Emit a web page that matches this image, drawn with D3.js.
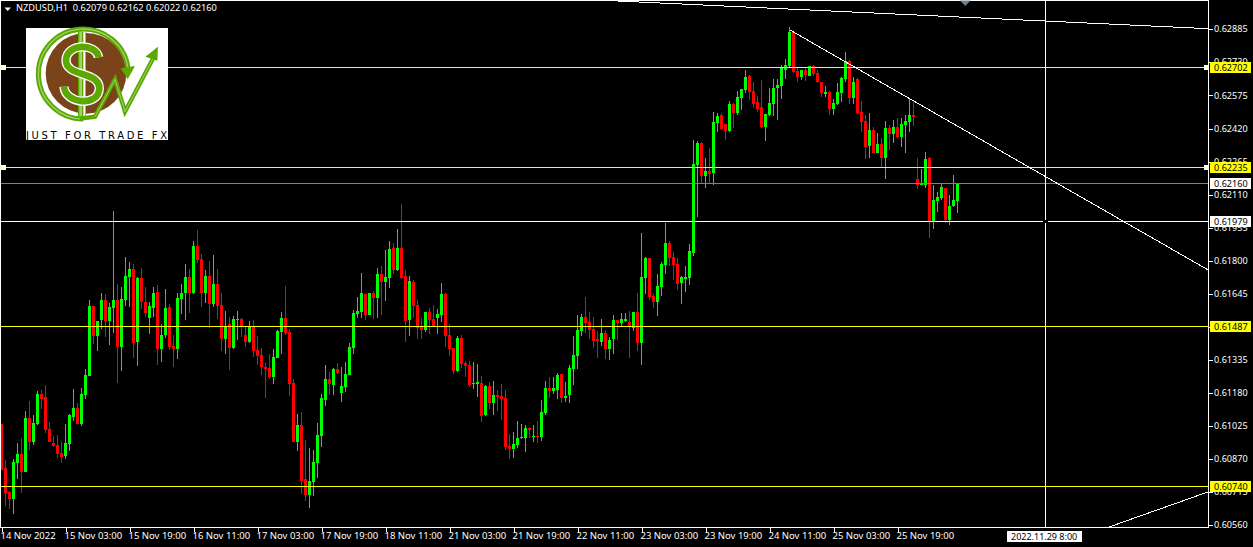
<!DOCTYPE html>
<html>
<head>
<meta charset="utf-8">
<script src="https://cdn.jsdelivr.net/npm/d3@7/dist/d3.min.js"></script>
<style>
html,body{margin:0;padding:0;background:#000;overflow:hidden}
svg{display:block}
text{font-family:"Noto Sans",sans-serif;font-size:9px}
</style>
</head>
<body>
<script>
// Prices in points (1 point = 0.00001), one hourly bar per entry
const opens = [
61030,60823,60710,60678,60847,60889,60804,61058,60945,61030,61171,61157,61006,60941,60931,60894,60880,60936,61063,61105,
61030,61166,61255,61584,61443,61518,61612,61514,61575,61612,61392,61612,61720,61758,61415,61716,61603,61528,61575,61650,
61382,61448,61579,61396,61382,61617,61645,61720,61645,61866,61805,61645,61725,61594,61687,61589,61429,61500,61387,61518,
61523,61448,61415,61485,61377,61354,61298,61293,61251,61340,61462,61528,61462,61222,60945,61025,60772,60696,60757,60847,
60974,61143,61241,61213,61288,61175,61204,61260,61387,61547,61556,61640,61542,61645,61622,61734,61697,61716,61857,61753,
61857,61725,61518,61697,61589,61485,61471,61556,61523,61528,61542,61640,61448,61387,61279,61434,61316,61307,61218,61218,
61222,61072,61208,61128,61166,61161,61152,60927,60912,60931,60964,60964,61011,60969,60974,60969,61082,61199,61185,61190,
61265,61152,61166,61288,61349,61467,61532,61509,61476,61429,61415,61457,61382,61429,61518,61504,61514,61509,61481,61556,
61410,61715,61809,61631,61602,61673,61776,61880,61814,61781,61692,61710,61715,61833,62246,62349,62194,62218,62208,62443,
62481,62439,62406,62532,62490,62561,62598,62664,62594,62542,62518,62424,62481,62532,62608,62617,62692,62711,62871,62687,
62659,62692,62664,62711,62678,62636,62579,62589,62509,62532,62584,62650,62734,62561,62650,62495,62453,62335,62410,62302,
62345,62279,62420,62392,62424,62377,62434,62448,62481,62180,62152,62152,62279,61983,62077,62091,62138,61988,62053,62079];
const highs = [
61030,60861,60715,60865,60941,60964,61091,61138,61072,61185,61190,61213,61039,60974,60978,60945,61030,61077,61194,61128,
61199,61288,61612,61584,61514,61645,61640,61598,62030,61687,61673,61814,61791,61781,61720,61763,61673,61603,61673,61683,
61500,61664,61594,61448,61645,61687,61781,61758,61889,61941,61828,61753,61795,61824,61758,61645,61561,61532,61537,61561,
61528,61490,61514,61518,61443,61387,61316,61359,61382,61471,61556,61678,61476,61241,61077,61086,60955,60917,60908,61035,
61171,61307,61274,61293,61316,61298,61321,61410,61565,61626,61739,61640,61645,61655,61763,61772,61847,61889,61880,61946,
62063,61753,61725,61706,61612,61528,61556,61575,61589,61570,61692,61645,61500,61387,61443,61448,61326,61326,61321,61312,
61255,61213,61227,61232,61190,61218,61190,60983,60992,61044,61030,61025,61016,61025,61044,61143,61232,61251,61251,61269,
61265,61227,61307,61443,61542,61547,61626,61556,61532,61467,61523,61471,61438,61542,61518,61551,61551,61561,61556,61645,
61927,61814,61809,61640,61734,61790,61973,61889,61837,61809,61725,61772,61875,62363,62359,62354,62279,62326,62495,62490,
62490,62439,62547,62537,62594,62603,62692,62669,62636,62570,62645,62485,62608,62650,62650,62716,62744,62894,62875,62706,
62692,62706,62711,62716,62692,62636,62617,62594,62556,62631,62659,62777,62739,62659,62655,62547,62481,62490,62424,62396,
62373,62453,62434,62457,62467,62467,62481,62561,62547,62279,62227,62307,62283,62152,62119,62157,62138,62105,62199,62162];
const lows = [
60814,60645,60631,60607,60772,60706,60804,60908,60931,61025,61100,60988,60945,60922,60870,60847,60865,60903,61044,61030,
61020,61147,61255,61406,61373,61476,61438,61401,61457,61222,61279,61584,61579,61340,61302,61570,61532,61453,61532,61307,
61321,61434,61377,61298,61335,61547,61518,61551,61640,61786,61579,61598,61481,61579,61523,61373,61359,61284,61382,61424,
61438,61392,61410,61345,61307,61260,61152,61241,61218,61340,61359,61448,61161,60945,60903,60701,60668,60635,60692,60776,
60922,61114,61166,61166,61265,61133,61180,61260,61359,61528,61528,61518,61542,61523,61528,61542,61608,61669,61734,61749,
61711,61415,61443,61528,61429,61429,61462,61453,61490,61453,61509,61392,61349,61265,61274,61293,61251,61204,61194,61157,
61039,61067,61100,61072,61091,61049,60908,60865,60870,60917,60959,60898,60964,60945,60941,60950,61072,61152,61171,61147,
61128,61133,61128,61213,61288,61443,61457,61429,61387,61340,61396,61335,61330,61359,61424,61490,61509,61340,61467,61373,
61307,61640,61612,61574,61537,61631,61734,61772,61706,61659,61593,61649,61682,61819,62002,62161,62138,62161,62152,62401,
62410,62363,62401,62420,62481,62504,62584,62551,62514,62495,62420,62359,62476,62476,62457,62556,62650,62706,62678,62636,
62645,62640,62664,62664,62631,62565,62565,62481,62481,62528,62542,62636,62532,62532,62485,62401,62274,62279,62302,62302,
62237,62180,62316,62349,62373,62330,62302,62401,62429,62133,62152,62138,61903,61945,62025,62082,61973,61964,62049,62022];
const closes = [
60817,60706,60678,60851,60889,60804,61058,60945,61035,61171,61147,61002,60945,60927,60889,60875,60941,61072,61105,61030,
61171,61260,61584,61443,61514,61612,61514,61579,61612,61392,61617,61725,61758,61410,61716,61603,61551,61584,61645,61382,
61448,61575,61392,61382,61622,61645,61720,61645,61866,61800,61645,61725,61594,61687,61584,61429,61490,61387,61523,61523,
61490,61415,61490,61373,61349,61298,61288,61251,61345,61467,61528,61457,61218,60945,61025,60762,60696,60762,60851,60978,
61152,61241,61218,61288,61269,61208,61265,61392,61551,61561,61645,61542,61645,61622,61734,61697,61720,61852,61753,61857,
61716,61514,61702,61584,61481,61471,61556,61518,61490,61547,61640,61443,61382,61279,61434,61312,61302,61213,61222,61227,
61067,61208,61128,61166,61157,61147,60922,60912,60936,60964,60969,61011,61002,60974,60969,61086,61199,61185,61199,61260,
61152,61161,61293,61354,61471,61532,61504,61471,61420,61420,61457,61382,61424,61518,61504,61523,61523,61485,61556,61410,
61720,61809,61626,61602,61678,61781,61880,61809,61776,61687,61720,61720,61842,62251,62349,62194,62218,62204,62448,62476,
62415,62406,62532,62490,62565,62603,62659,62589,62532,62509,62424,62485,62537,62608,62622,62706,62716,62871,62683,62659,
62692,62669,62711,62673,62636,62584,62589,62509,62537,62589,62655,62734,62561,62636,62490,62448,62330,62410,62302,62345,
62279,62420,62392,62424,62377,62439,62453,62481,62471,62152,62157,62274,61983,62082,62096,62143,61988,62053,62082,62160];

const priceTicks = [62885,62730,62575,62420,62265,62110,61955,61800,61645,61490,61335,61180,61025,60870,60715,60560];
const timeTickBars = [0,16,32,48,64,80,96,112,128,144,160,176,192,208,224];
const timeTickLabels = ["14 Nov 2022","15 Nov 03:00","15 Nov 19:00","16 Nov 11:00","17 Nov 03:00","17 Nov 19:00","18 Nov 11:00","21 Nov 03:00","21 Nov 19:00","22 Nov 11:00","23 Nov 03:00","23 Nov 19:00","24 Nov 11:00","25 Nov 03:00","25 Nov 19:00"];
const hLevels = [62702,62235,62160,61979,61487,60740];
const hLevelColors = ["#ffff00","#ffff00","#808080","#ffffff","#ffff00","#ffff00"];
const hLevelTags = ["#ffff00","#ffff00","#ffffff","#ffffff","#ffff00","#ffff00"];
const anchoredLevels = [62702,62235];
// Trend lines as [bar index, price in points] pairs (bars beyond the last lie in the future)
const trendLines = [
  [[148.2,63021],[301.75,62886]],
  [[197.1,62880],[301.75,61753]],
  [[276.6,60546],[301.75,60713]]
];

const W = 1253, H = 547, right = 1208.5, bottom = 527.5;
const x = d3.scaleLinear().domain([0,239]).range([1.5,957.5]);
const y = d3.scaleLinear().domain([60560,62885]).range([524.4,28.9]);
const py = v => Math.floor(y(v)) + 0.5;

const svg = d3.select("body").append("svg").attr("width",W).attr("height",H).style("background","#000");

// Candles
const bars = d3.range(opens.length).map(i => ({i,o:opens[i],h:highs[i],l:lows[i],c:closes[i]}));
const candles = svg.append("g").attr("shape-rendering","crispEdges");
candles.selectAll("rect.w").data(bars).join("rect").attr("class","w")
  .attr("x",d=>x(d.i)-0.5).attr("width",1)
  .attr("y",d=>Math.round(y(d.h))).attr("height",d=>Math.max(1,Math.round(y(d.l))-Math.round(y(d.h))))
  .attr("fill",d=>d.c>=d.o?"#14e60a":"#e60a0a");
candles.selectAll("rect.b").data(bars).join("rect").attr("class","b")
  .attr("x",d=>x(d.i)-1.5).attr("width",3)
  .attr("y",d=>Math.round(y(Math.max(d.o,d.c))))
  .attr("height",d=>Math.max(1,Math.round(y(Math.min(d.o,d.c)))-Math.round(y(Math.max(d.o,d.c)))))
  .attr("fill",d=>d.c>=d.o?"#00ff00":"#ff0000");

// Horizontal levels
const lv = svg.append("g").attr("shape-rendering","crispEdges");
hLevels.forEach((v,i)=>{
  lv.append("line").attr("x1",0).attr("x2",right).attr("y1",py(v)).attr("y2",py(v))
    .attr("stroke",hLevelColors[i]).attr("stroke-width",1);
});

// Trend lines (aliased, stepped as in the terminal)
const line = d3.line().x(d=>x(d[0])).y(d=>y(d[1]));
svg.append("g").selectAll("path").data(trendLines).join("path")
  .attr("d",line).attr("fill","none").attr("stroke","#fff").attr("stroke-width",1).attr("shape-rendering","crispEdges");

// Cross-hair vertical
lv.append("line").attr("x1",1045.5).attr("x2",1045.5).attr("y1",0).attr("y2",bottom).attr("stroke","#fff");
lv.append("rect").attr("x",1043).attr("y",py(61979)-1.5).attr("width",5).attr("height",3).attr("fill","#000");

// Frame
lv.append("path").attr("d",`M0.5,0.5H${right}V${bottom}H0.5Z`).attr("fill","none").attr("stroke","#fff");

// Anchor squares of the levels
anchoredLevels.forEach(v=>{
  [0,1203].forEach(ax=>{
    lv.append("rect").attr("x",ax+1.5).attr("y",py(v)-2).attr("width",4).attr("height",4)
      .attr("fill","#ffffc8").attr("stroke","#fff");
  });
});

// Price axis
const yAxis = d3.axisRight(y).tickValues(priceTicks).tickSize(4).tickPadding(2)
  .tickFormat(v=>(v/1e5).toFixed(5));
const ya = svg.append("g").attr("transform",`translate(${right},0.5)`).call(yAxis);
ya.select(".domain").remove();
ya.selectAll("line").attr("stroke","#fff").attr("shape-rendering","crispEdges");
ya.selectAll("text").attr("fill","#fff").attr("x",5.5).attr("dy","0.28em")
  .style("font-family",'"Noto Sans",sans-serif').style("font-size","9.1px");

// Time axis
const xAxis = d3.axisBottom(x).tickValues(timeTickBars).tickSize(4)
  .tickFormat((d,i)=>timeTickLabels[i]);
const xa = svg.append("g").attr("transform",`translate(0,${bottom})`).call(xAxis);
xa.select(".domain").remove();
xa.selectAll("line").attr("stroke","#fff").attr("shape-rendering","crispEdges");
xa.selectAll("text").attr("fill","#fff").attr("text-anchor","start").attr("x",-1.5).attr("y",5).attr("dy","0.71em")
  .style("font-family",'"Noto Sans",sans-serif').style("font-size","9.5px");

// Price tags
hLevels.forEach((v,i)=>{
  const yy = py(v);
  svg.append("rect").attr("x",1210).attr("y",yy-6).attr("width",41).attr("height",11)
    .attr("fill",hLevelTags[i]).attr("shape-rendering","crispEdges");
  svg.append("text").attr("x",1214).attr("y",yy+3).attr("fill","#000").style("font-size","9.1px").text((v/1e5).toFixed(5));
});

// Time tag
svg.append("rect").attr("x",1007).attr("y",531).attr("width",75).attr("height",11).attr("fill","#fff").attr("shape-rendering","crispEdges");
svg.append("text").attr("x",1011).attr("y",540).attr("fill","#000").text("2022.11.29 8:00");

// Header
svg.append("path").attr("d","M4.5,7.5H11L7.7,11Z").attr("fill","#fff");
svg.append("text").attr("x",16).attr("y",11).attr("fill","#fff").attr("xml:space","preserve").style("font-size","9.25px")
  .text("NZDUSD,H1  0.62079 0.62162 0.62022 0.62160");

// Event marker
svg.append("path").attr("d","M960,0.5H970.5L965.3,6Z").attr("fill","#708090");

// Logo
const logo = svg.append("g");
logo.append("rect").attr("x",26).attr("y",28).attr("width",142).attr("height",112).attr("fill","#fff");
const z = logo.append("g").attr("transform","scale(0.33333)");
z.append("circle").attr("cx",258).attr("cy",220).attr("r",121).attr("fill","#7a431a");
const ring = "M384,205 A135,135 0 1 0 250,357";
z.append("path").attr("d",ring).attr("fill","none").attr("stroke","#5aa800").attr("stroke-width",15);
z.append("path").attr("d",ring).attr("fill","none").attr("stroke","#a4cf6a").attr("stroke-width",4);
z.append("path").attr("d","M362,205 L405,198 L383,238 Z").attr("fill","#5aa800");
z.append("rect").attr("x",234).attr("y",95).attr("width",24).attr("height",255).attr("fill","#5aa800");
z.append("rect").attr("x",238).attr("y",95).attr("width",8).attr("height",255).attr("fill","#a4cf6a");
z.append("rect").attr("x",250).attr("y",95).attr("width",6).attr("height",255).attr("fill","#fff");
const sPath = "M296,172 C288,128 200,130 198,180 C196,232 298,212 298,265 C296,322 195,312 192,260";
z.append("path").attr("d",sPath).attr("fill","none").attr("stroke","#fff").attr("stroke-width",28);
z.append("path").attr("d",sPath).attr("fill","none").attr("stroke","#5aa800").attr("stroke-width",20);
const wPath = "M285,350 L345,238 L375,335 L462,170";
z.append("path").attr("d","M240,356 L285,350 L345,238 L375,335 L462,170").attr("fill","none").attr("stroke","#5aa800").attr("stroke-width",13);
z.append("path").attr("d",wPath).attr("fill","none").attr("stroke","#a4cf6a").attr("stroke-width",3);
z.append("path").attr("d","M436,170 L474,140 L472,182 Z").attr("fill","#5aa800");
logo.append("text").attr("x",26).attr("y",139).attr("fill","#000").attr("textLength",141).attr("lengthAdjust","spacing")
  .style("font-family",'"DejaVu Sans",sans-serif').style("font-size","10px").text("JUST FOR TRADE FX");
</script>
</body>
</html>
